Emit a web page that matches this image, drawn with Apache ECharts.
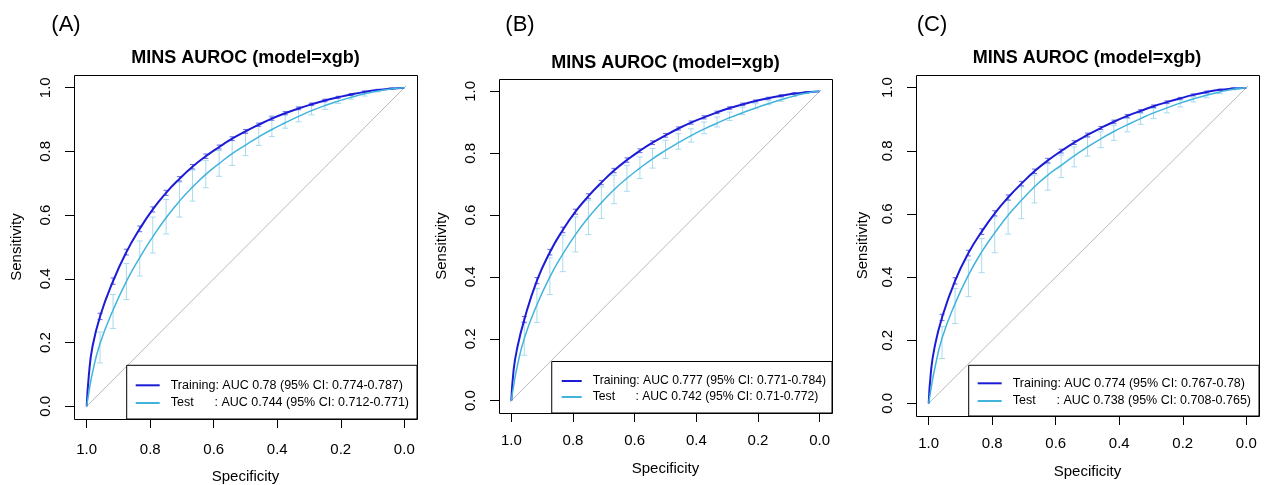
<!DOCTYPE html>
<html>
<head>
<meta charset="utf-8">
<script src="https://cdn.jsdelivr.net/npm/echarts@6/dist/echarts.min.js"></script>
<style>
  html, body { margin: 0; padding: 0; background: #fff; }
  #chart { width: 1269px; height: 485px; }
</style>
</head>
<body>
<div id="chart"></div>
<script>
const FONT = '"Liberation Sans", Arial, sans-serif';

const specCurve = [1, 0.993, 0.982, 0.958, 0.917, 0.875, 0.833, 0.792, 0.75, 0.708, 0.667, 0.625, 0.583,
  0.542, 0.5, 0.458, 0.417, 0.375, 0.333, 0.292, 0.25, 0.208, 0.167, 0.125, 0.083, 0.042, 0];
// specificity of the CI bars
const specCi = [0.958, 0.917, 0.875, 0.833, 0.792, 0.75, 0.708, 0.667, 0.625, 0.583, 0.542, 0.5,
  0.458, 0.417, 0.375, 0.333, 0.292, 0.25, 0.208, 0.167, 0.125, 0.083, 0.042];

// (A)
const trainA = [0, 0.10, 0.186, 0.282, 0.393, 0.484, 0.557, 0.618, 0.670, 0.714, 0.752, 0.785, 0.814, 0.840,
  0.863, 0.884, 0.903, 0.920, 0.935, 0.948, 0.960, 0.970, 0.979, 0.987, 0.993, 0.997, 1];
const testA = [0, 0.045, 0.105, 0.197, 0.302, 0.392, 0.467, 0.532, 0.592, 0.644, 0.688, 0.728, 0.762, 0.793,
  0.820, 0.846, 0.869, 0.890, 0.910, 0.928, 0.944, 0.958, 0.970, 0.981, 0.990, 0.996, 1];
const testLoA = [0.136, 0.244, 0.335, 0.409, 0.481, 0.541, 0.594, 0.644, 0.686, 0.722, 0.756, 0.787,
  0.819, 0.847, 0.873, 0.893, 0.915, 0.932, 0.951, 0.964, 0.974, 0.987, 0.995];
const testHiA = [0.233, 0.351, 0.448, 0.519, 0.594, 0.649, 0.704, 0.742, 0.772, 0.803, 0.835, 0.861,
  0.887, 0.912, 0.918, 0.941, 0.950, 0.962, 0.973, 0.980, 0.987, 0.993, 0.999];

// (B)
const trainB = [0, 0.095, 0.165, 0.262, 0.388, 0.480, 0.552, 0.611, 0.661, 0.705, 0.744, 0.778, 0.808, 0.834,
  0.858, 0.880, 0.899, 0.916, 0.932, 0.946, 0.958, 0.969, 0.978, 0.986, 0.993, 0.997, 1];
const testB = [0, 0.045, 0.105, 0.201, 0.310, 0.400, 0.474, 0.537, 0.592, 0.640, 0.682, 0.719, 0.752, 0.782,
  0.809, 0.834, 0.857, 0.878, 0.897, 0.915, 0.931, 0.946, 0.960, 0.973, 0.985, 0.995, 1];
const testLoB = [0.147, 0.253, 0.343, 0.417, 0.481, 0.537, 0.589, 0.637, 0.677, 0.718, 0.752, 0.783,
  0.813, 0.836, 0.863, 0.885, 0.906, 0.925, 0.944, 0.957, 0.968, 0.983, 0.994];
const testHiB = [0.255, 0.363, 0.462, 0.535, 0.594, 0.648, 0.691, 0.729, 0.761, 0.788, 0.815, 0.842,
  0.863, 0.879, 0.901, 0.917, 0.933, 0.949, 0.960, 0.971, 0.981, 0.991, 0.998];

// (C)
const trainC = [0, 0.10, 0.175, 0.272, 0.388, 0.476, 0.544, 0.602, 0.652, 0.696, 0.735, 0.769, 0.799, 0.826,
  0.850, 0.872, 0.892, 0.910, 0.926, 0.941, 0.954, 0.966, 0.977, 0.986, 0.993, 0.997, 1];
const testC = [0, 0.045, 0.105, 0.206, 0.316, 0.406, 0.480, 0.540, 0.596, 0.643, 0.686, 0.723, 0.754, 0.784,
  0.812, 0.838, 0.861, 0.882, 0.902, 0.920, 0.936, 0.951, 0.964, 0.976, 0.986, 0.995, 1];
const testLoC = [0.142, 0.253, 0.338, 0.414, 0.477, 0.536, 0.585, 0.635, 0.675, 0.715, 0.749, 0.783,
  0.810, 0.833, 0.860, 0.884, 0.902, 0.920, 0.939, 0.955, 0.968, 0.981, 0.993];
const testHiC = [0.243, 0.364, 0.454, 0.522, 0.591, 0.643, 0.686, 0.723, 0.759, 0.786, 0.812, 0.844,
  0.860, 0.881, 0.902, 0.918, 0.934, 0.949, 0.960, 0.970, 0.981, 0.992, 0.997];

// training CI is very narrow, half width of the little bars
const trainCiHalf = [0.010, 0.010, 0.009, 0.009, 0.008, 0.008, 0.007, 0.007, 0.007, 0.006, 0.006, 0.006,
  0.005, 0.005, 0.005, 0.004, 0.004, 0.004, 0.003, 0.003, 0.003, 0.002, 0.002];

const panels = [
  { tag: '(A)', train: trainA, test: testA, lo: testLoA, hi: testHiA,
    trainName: 'Training: AUC 0.78 (95% CI: 0.774-0.787)',
    testName: 'Test      : AUC 0.744 (95% CI: 0.712-0.771)' },
  { tag: '(B)', train: trainB, test: testB, lo: testLoB, hi: testHiB,
    trainName: 'Training: AUC 0.777 (95% CI: 0.771-0.784)',
    testName: 'Test      : AUC 0.742 (95% CI: 0.71-0.772)' },
  { tag: '(C)', train: trainC, test: testC, lo: testLoC, hi: testHiC,
    trainName: 'Training: AUC 0.774 (95% CI: 0.767-0.78)',
    testName: 'Test      : AUC 0.738 (95% CI: 0.708-0.765)' }
];
const title = 'MINS AUROC (model=xgb)';

// layout of each panel: the drawn box in px (R pads the 0..1 range by 4% on each side)
const layout = [
  { left: 74, top: 75, width: 343, height: 344, titleX: 245.5, titleY: 58.5, tagX: 66, tagY: 25,
    xMargin: 23, xNameGap: 50, yNameGap: 50,
    legFont: 12.5, legIcon: 24, legGap: 3.7, legPad: [13, 8, 9, 9] },
  { left: 499, top: 79, width: 333, height: 334, titleX: 665.5, titleY: 63, tagX: 520, tagY: 25,
    xMargin: 20, xNameGap: 48, yNameGap: 50,
    legFont: 12.2, legIcon: 20, legGap: 2, legPad: [12.5, 6, 9, 10] },
  { left: 916, top: 75, width: 343, height: 341, titleX: 1087, titleY: 58, tagX: 932, tagY: 25,
    xMargin: 20, xNameGap: 48, yNameGap: 46,
    legFont: 12.5, legIcon: 24, legGap: 3.7, legPad: [11, 8, 8, 9] }
];
const PAD = 0.04 / 1.08;

const W = 1269, H = 485;
const cTrain = '#1c1cd6', cTest = '#42b4dc', cTestCi = '#a9dbee', cTrainCi = '#6a6ae6';

function ciBars(color, cap) {
  return function (params, api) {
    const p1 = api.coord([api.value(0), api.value(1)]);
    const p2 = api.coord([api.value(0), api.value(2)]);
    const st = { stroke: color, lineWidth: 1 };
    return {
      type: 'group',
      children: [
        { type: 'line', shape: { x1: p1[0], y1: p1[1], x2: p2[0], y2: p2[1] }, style: st },
        { type: 'line', shape: { x1: p1[0] - cap, y1: p1[1], x2: p1[0] + cap, y2: p1[1] }, style: st },
        { type: 'line', shape: { x1: p2[0] - cap, y1: p2[1], x2: p2[0] + cap, y2: p2[1] }, style: st }
      ]
    };
  };
}

const grid = [], xAxis = [], yAxis = [], series = [], legend = [], graphic = [];

panels.forEach(function (p, i) {
  const L = layout[i];
  const dx = L.width * PAD, dy = L.height * PAD;
  // grid is the 0..1 square, the box around it is drawn separately
  grid.push({ left: L.left + dx, top: L.top + dy, width: L.width - 2 * dx, height: L.height - 2 * dy,
    outerBoundsMode: 'none', containLabel: false });
  graphic.push({ type: 'rect', z: 1, silent: true,
    shape: { x: L.left + 0.5, y: L.top + 0.5, width: L.width, height: L.height },
    style: { fill: null, stroke: '#000', lineWidth: 1 } });

  const common = {
    gridIndex: i, type: 'value', min: 0, max: 1, interval: 0.2,
    axisLine: { show: true, onZero: false, lineStyle: { color: '#000', width: 1 } },
    axisTick: { show: true, length: 9, lineStyle: { color: '#000' } },
    axisLabel: { formatter: v => v.toFixed(1), color: '#000', fontFamily: FONT, fontSize: 15, margin: 20 },
    splitLine: { show: false },
    nameLocation: 'middle',
    nameTextStyle: { fontFamily: FONT, fontSize: 15, color: '#000' }
  };
  xAxis.push(Object.assign({}, common, {
    inverse: true, offset: dy, name: 'Specificity', nameGap: L.xNameGap,
    axisLabel: Object.assign({}, common.axisLabel, { margin: L.xMargin })
  }));
  yAxis.push(Object.assign({}, common, {
    offset: dx, name: 'Sensitivity', nameGap: L.yNameGap,
    axisLabel: Object.assign({}, common.axisLabel, { rotate: 90, margin: 21 })
  }));

  // chance diagonal, corner to corner of the box
  series.push({ type: 'line', xAxisIndex: i, yAxisIndex: i, silent: true, symbol: 'none', clip: false,
    data: [[1.04, -0.04], [-0.04, 1.04]], lineStyle: { color: '#b9b9b9', width: 1 } });

  series.push({ type: 'custom', xAxisIndex: i, yAxisIndex: i, silent: true,
    renderItem: ciBars(cTestCi, 3), encode: { x: 0, y: [1, 2] },
    data: specCi.map((s, k) => [s, p.lo[k], p.hi[k]]) });

  series.push({ name: p.trainName, type: 'line', xAxisIndex: i, yAxisIndex: i, symbol: 'none',
    smooth: 0.5, color: cTrain, lineStyle: { color: cTrain, width: 2 },
    data: specCurve.map((s, k) => [s, p.train[k]]) });

  series.push({ type: 'custom', xAxisIndex: i, yAxisIndex: i, silent: true,
    renderItem: ciBars(cTrainCi, 2.5), encode: { x: 0, y: [1, 2] },
    data: specCi.map((s, k) => [s, p.train[k + 3] - trainCiHalf[k], p.train[k + 3] + trainCiHalf[k]]) });

  series.push({ name: p.testName, type: 'line', xAxisIndex: i, yAxisIndex: i, symbol: 'none',
    smooth: 0.5, color: cTest, lineStyle: { color: cTest, width: 1.5 },
    data: specCurve.map((s, k) => [s, p.test[k]]) });

  legend.push({
    data: [p.trainName, p.testName], orient: 'vertical', icon: 'rect',
    right: W - (L.left + L.width), bottom: H - (L.top + L.height),
    borderColor: '#000', borderWidth: 1, backgroundColor: '#fff', padding: L.legPad,
    itemWidth: L.legIcon, itemHeight: 2, itemGap: L.legGap, selectedMode: false,
    textStyle: { fontFamily: FONT, fontSize: L.legFont, lineHeight: 14, color: '#000', padding: [0, 0, 0, 6] }
  });

  graphic.push({ type: 'text', x: L.titleX, y: L.titleY,
    style: { text: title, fontFamily: FONT, fontSize: 18, fontWeight: 'bold', fill: '#000',
      align: 'center', verticalAlign: 'middle' } });
  graphic.push({ type: 'text', x: L.tagX, y: L.tagY,
    style: { text: p.tag, fontFamily: FONT, fontSize: 22, fill: '#000',
      align: 'center', verticalAlign: 'middle' } });
});

const chart = echarts.init(document.getElementById('chart'), null, { renderer: 'canvas' });
chart.setOption({
  animation: false,
  backgroundColor: '#fff',
  grid: grid,
  xAxis: xAxis,
  yAxis: yAxis,
  legend: legend,
  series: series,
  graphic: graphic
});
</script>
</body>
</html>
